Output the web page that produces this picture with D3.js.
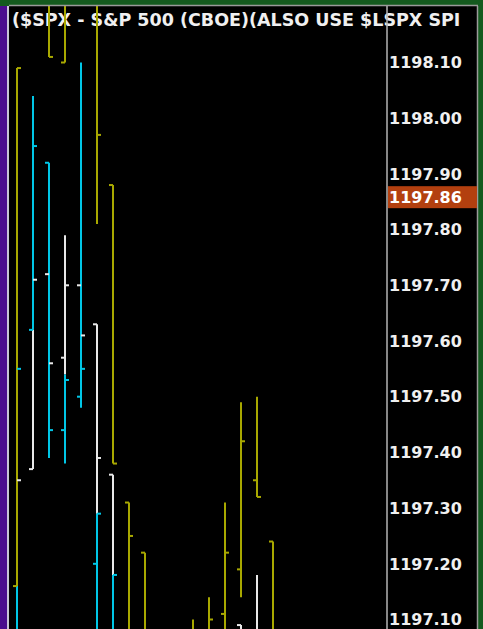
<!DOCTYPE html>
<html>
<head>
<meta charset="utf-8">
<script src="https://cdn.jsdelivr.net/npm/d3@7"></script>
<style>
  html, body { margin: 0; padding: 0; background: #000; overflow: hidden; }
  svg { display: block; }
</style>
</head>
<body>
<svg width="483" height="629"></svg>
<script>
var title = "($SPX - S&P 500 (CBOE)(ALSO USE $LSPX SPI";
var tickLabels = [1198.10, 1198.00, 1197.90, 1197.80, 1197.70, 1197.60, 1197.50, 1197.40, 1197.30, 1197.20, 1197.10];
var lastPrice = 1197.86;

// bar pieces per slot: [slot, colour, top price, bottom price]
var segments = [
  [0, "y", 1198.09, 1197.16], [0, "c", 1197.16, 1196.90],
  [1, "c", 1198.04, 1197.62], [1, "w", 1197.62, 1197.37],
  [2, "y", 1198.40, 1198.11], [2, "c", 1197.92, 1197.39],
  [3, "y", 1198.40, 1198.10], [3, "w", 1197.79, 1197.54], [3, "c", 1197.54, 1197.38],
  [4, "c", 1198.10, 1197.48],
  [5, "y", 1198.40, 1197.81], [5, "w", 1197.63, 1197.29], [5, "c", 1197.29, 1196.90],
  [6, "y", 1197.88, 1197.38], [6, "w", 1197.36, 1197.18], [6, "c", 1197.18, 1196.90],
  [7, "y", 1197.31, 1196.90],
  [8, "y", 1197.22, 1196.90],
  [11, "y", 1197.10, 1196.90],
  [12, "y", 1197.14, 1196.90],
  [13, "y", 1197.31, 1196.90],
  [14, "y", 1197.49, 1197.14], [14, "w", 1197.09, 1196.90],
  [15, "y", 1197.50, 1197.32], [15, "w", 1197.18, 1196.90],
  [16, "y", 1197.24, 1196.90]
];

// open / close ticks: [slot, colour, price, side]  (-1 left, 1 right)
var ticks = [
  [0, "y", 1198.09, 1], [0, "c", 1197.55, 1], [0, "w", 1197.35, 1], [0, "y", 1197.16, -1],
  [1, "c", 1197.95, 1], [1, "w", 1197.71, 1], [1, "c", 1197.62, -1], [1, "w", 1197.37, -1],
  [2, "y", 1198.11, 1], [2, "c", 1197.92, -1], [2, "w", 1197.72, -1], [2, "w", 1197.56, 1], [2, "c", 1197.44, 1],
  [3, "y", 1198.10, -1], [3, "w", 1197.70, 1], [3, "w", 1197.57, -1], [3, "c", 1197.53, 1], [3, "c", 1197.44, -1],
  [4, "w", 1197.70, -1], [4, "w", 1197.61, 1], [4, "c", 1197.55, 1], [4, "c", 1197.50, -1],
  [5, "y", 1197.97, 1], [5, "w", 1197.63, -1], [5, "w", 1197.39, 1], [5, "c", 1197.29, 1], [5, "c", 1197.20, -1],
  [6, "y", 1197.88, -1], [6, "y", 1197.38, 1], [6, "w", 1197.36, -1], [6, "c", 1197.18, 1],
  [7, "y", 1197.31, -1], [7, "y", 1197.25, 1],
  [8, "y", 1197.22, -1],
  [12, "y", 1197.10, 1],
  [13, "y", 1197.22, 1], [13, "y", 1197.11, -1],
  [14, "y", 1197.42, 1], [14, "y", 1197.19, -1], [14, "w", 1197.09, -1],
  [15, "y", 1197.35, -1], [15, "y", 1197.32, 1],
  [16, "y", 1197.24, -1]
];

var colors = { y: "#a8a800", c: "#00c6e6", w: "#e8e8e8" };

var svg = d3.select("svg");
var width = 483;
var height = 629;

var plotLeft = 9, plotRight = 386, plotTop = 6;
var axisRight = 477;

var x = d3.scaleLinear().domain([0, 16]).range([17, 273]);
var y = d3.scaleLinear().domain([1197.10, 1198.10]).range([619.5, 62.5]);

// frame
svg.append("rect").attr("width", width).attr("height", height).attr("fill", "#145a1e");
svg.append("rect").attr("x", 0).attr("y", plotTop).attr("width", 7).attr("height", height)
  .attr("fill", "#4b0c8e");
svg.append("rect").attr("x", 7).attr("y", plotTop).attr("width", 2).attr("height", height)
  .attr("fill", "#c9c2d8");
svg.append("rect").attr("x", plotLeft).attr("y", plotTop).attr("width", axisRight - plotLeft)
  .attr("height", height).attr("fill", "#000");

var defs = svg.append("defs");
defs.append("clipPath").attr("id", "plotclip")
  .append("rect").attr("x", plotLeft).attr("y", plotTop)
  .attr("width", plotRight - plotLeft).attr("height", height - plotTop);
defs.append("clipPath").attr("id", "titleclip")
  .append("rect").attr("x", plotLeft).attr("y", plotTop)
  .attr("width", axisRight - plotLeft).attr("height", 30);

// title
svg.append("text")
  .attr("clip-path", "url(#titleclip)")
  .attr("x", 12)
  .attr("y", 26)
  .attr("fill", "#f0f0f0")
  .attr("font-family", "DejaVu Sans")
  .attr("font-weight", "bold")
  .attr("font-size", "17.5px")
  .text(title);

// bars
var bars = svg.append("g").attr("clip-path", "url(#plotclip)");

bars.selectAll("line.seg")
  .data(segments)
  .enter()
  .append("line")
  .attr("class", "seg")
  .attr("x1", function(d) { return x(d[0]); })
  .attr("x2", function(d) { return x(d[0]); })
  .attr("y1", function(d) { return y(d[2]); })
  .attr("y2", function(d) { return y(d[3]); })
  .attr("stroke", function(d) { return colors[d[1]]; })
  .attr("stroke-width", 2);

bars.selectAll("line.tick")
  .data(ticks)
  .enter()
  .append("line")
  .attr("class", "tick")
  .attr("x1", function(d) { return x(d[0]); })
  .attr("x2", function(d) { return x(d[0]) + d[3] * 4; })
  .attr("y1", function(d) { return y(d[2]); })
  .attr("y2", function(d) { return y(d[2]); })
  .attr("stroke", function(d) { return colors[d[1]]; })
  .attr("stroke-width", 2);

// border lines
svg.append("line").attr("x1", plotLeft).attr("x2", axisRight + 1).attr("y1", plotTop - 0.5).attr("y2", plotTop - 0.5)
  .attr("stroke", "#9a9a9a").attr("stroke-width", 1.5);
svg.append("line").attr("x1", plotRight + 1).attr("x2", plotRight + 1).attr("y1", plotTop).attr("y2", height)
  .attr("stroke", "#b4b4b4").attr("stroke-width", 1.5);
svg.append("line").attr("x1", axisRight + 0.5).attr("x2", axisRight + 0.5).attr("y1", plotTop).attr("y2", height)
  .attr("stroke", "#9a9a9a").attr("stroke-width", 1.5);

// right price axis
var axis = svg.append("g");
axis.selectAll("text")
  .data(tickLabels)
  .enter()
  .append("text")
  .attr("x", 389)
  .attr("y", function(d) { return y(d); })
  .attr("dy", "0.36em")
  .attr("fill", "#f0f0f0")
  .attr("font-family", "DejaVu Sans")
  .attr("font-weight", "bold")
  .attr("font-size", "16px")
  .text(function(d) { return d.toFixed(2); });

// last price marker
axis.append("rect")
  .attr("x", 388)
  .attr("y", y(lastPrice) - 10)
  .attr("width", axisRight - 388)
  .attr("height", 22)
  .attr("fill", "#b3400f");
axis.append("text")
  .attr("x", 389)
  .attr("y", y(lastPrice) + 1)
  .attr("dy", "0.36em")
  .attr("fill", "#ffffff")
  .attr("font-family", "DejaVu Sans")
  .attr("font-weight", "bold")
  .attr("font-size", "16px")
  .text(lastPrice.toFixed(2));
</script>
</body>
</html>
